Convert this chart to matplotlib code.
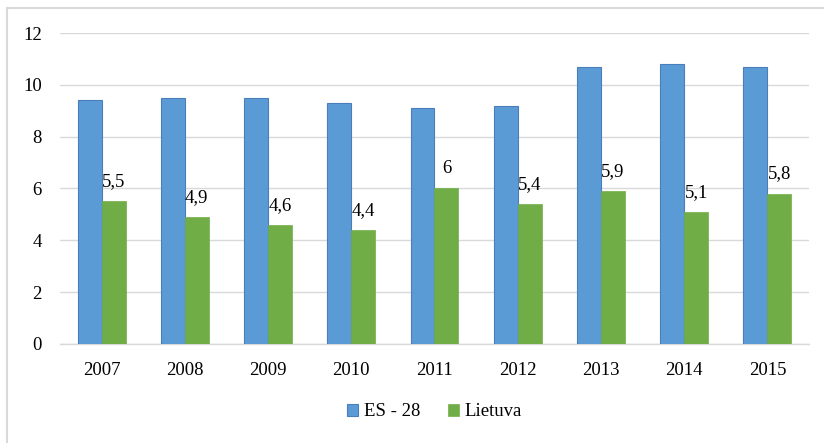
import matplotlib.pyplot as plt
import numpy as np
from matplotlib.lines import Line2D

plt.rcParams['font.family'] = ['Liberation Serif', 'DejaVu Serif']

years = ['2007', '2008', '2009', '2010', '2011', '2012', '2013', '2014', '2015']
es28 = [9.4, 9.5, 9.5, 9.3, 9.1, 9.2, 10.7, 10.8, 10.7]
lietuva = [5.5, 4.9, 4.6, 4.4, 6.0, 5.4, 5.9, 5.1, 5.8]
lietuva_labels = ['5,5', '4,9', '4,6', '4,4', '6', '5,4', '5,9', '5,1', '5,8']

fig = plt.figure(figsize=(8.24, 4.43), dpi=100)
ax = fig.add_axes([0.0728, 0.2235, 0.909, 0.702])

x = np.arange(len(years))
w = 0.288
ax.bar(x - w / 2, es28, w, color='#5B9BD5', edgecolor='#4A7EBB', linewidth=0.8,
       label='ES - 28', zorder=3)
bars = ax.bar(x + w / 2, lietuva, w, color='#70AD47', edgecolor='#70AD47', linewidth=0.5,
              label='Lietuva', zorder=3)

for b, lab in zip(bars, lietuva_labels):
    ax.annotate(lab, (b.get_x() + b.get_width() / 2, b.get_height()),
                xytext=(0, 8), textcoords='offset points', ha='center', va='bottom',
                fontsize=13.5, color='black')

ax.set_xlim(-0.5, len(years) - 0.5)
ax.set_ylim(0, 12)
ax.set_yticks(range(0, 13, 2))
ax.set_xticks(x)
ax.set_xticklabels(years)
ax.tick_params(axis='both', length=0, labelsize=13.5)
ax.tick_params(axis='x', pad=13)
ax.tick_params(axis='y', pad=13)
ax.grid(axis='y', color='#D9D9D9', linewidth=1, zorder=0)
for s in ['top', 'right', 'left']:
    ax.spines[s].set_visible(False)
ax.spines['bottom'].set_color('#D9D9D9')
ax.spines['bottom'].set_linewidth(1)

ax.legend(loc='lower center', bbox_to_anchor=(0.5, -0.30), ncol=2, frameon=False,
          fontsize=13.5, handlelength=0.6, handleheight=0.6, handletextpad=0.3,
          columnspacing=1.5)

# chart area border (top and left visible)
fig.add_artist(Line2D([7 / 824, 7 / 824], [0, 1 - 8 / 443], transform=fig.transFigure,
                      color='#D9D9D9', linewidth=1.5))
fig.add_artist(Line2D([7 / 824, 1], [1 - 8 / 443, 1 - 8 / 443], transform=fig.transFigure,
                      color='#D9D9D9', linewidth=1.5))

fig.savefig('out.png', dpi=100)
